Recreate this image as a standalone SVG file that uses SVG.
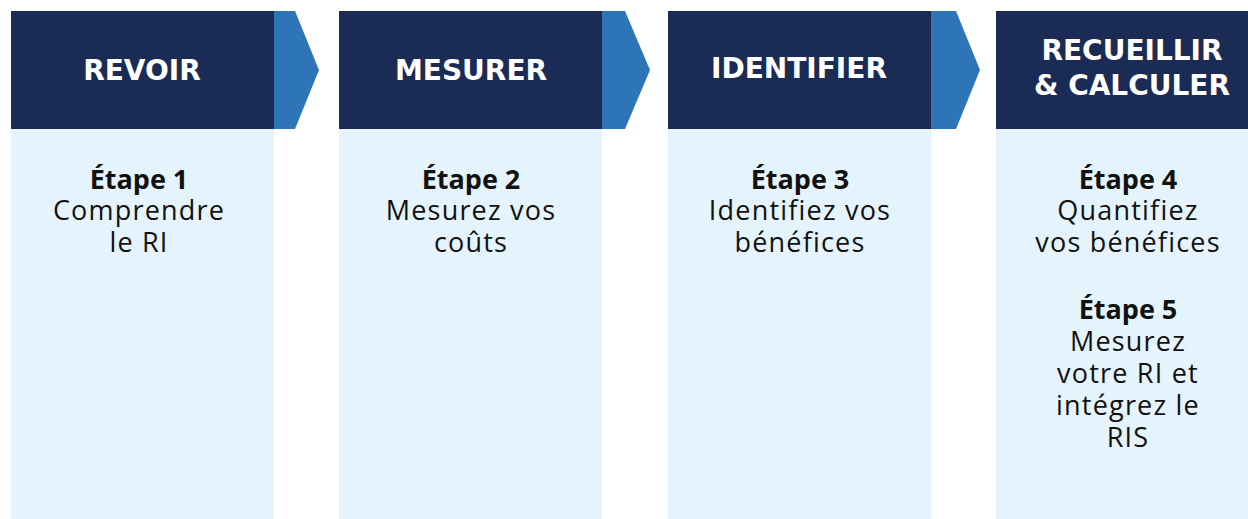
<svg xmlns="http://www.w3.org/2000/svg" width="1248" height="519" viewBox="0 0 1248 519">
<style>
.hd{fill:#1a2b55}
.bd{fill:#e5f4fc}
.arr{fill:#2e75b8}
.ht{font-family:"DejaVu Sans",sans-serif;font-weight:bold;font-size:28px;fill:#ffffff;text-anchor:middle}
.st{font-family:"Open Sans",sans-serif;font-weight:bold;font-size:27px;fill:#111111;text-anchor:middle}
.tx{font-family:"Open Sans",sans-serif;font-size:27px;fill:#111111;text-anchor:middle;letter-spacing:1.2px}
</style>
<rect x="0" y="0" width="1248" height="519" fill="#ffffff"/>
<g id="node-revoir">
<rect class="hd" x="11" y="11" width="263" height="118"/>
<rect class="bd" x="11" y="129" width="263" height="390"/>
<text class="ht" x="142" y="80">REVOIR</text>
<text class="st" x="139" y="189">Étape 1</text>
<text class="tx" x="139" y="220">Comprendre</text>
<text class="tx" x="139" y="252">le RI</text>
</g>
<g id="node-mesurer">
<rect class="hd" x="339" y="11" width="263" height="118"/>
<rect class="bd" x="339" y="129" width="263" height="390"/>
<text class="ht" x="471" y="80">MESURER</text>
<text class="st" x="471" y="189">Étape 2</text>
<text class="tx" x="471" y="220">Mesurez vos</text>
<text class="tx" x="471" y="252">coûts</text>
</g>
<g id="node-identifier">
<rect class="hd" x="668" y="11" width="263" height="118"/>
<rect class="bd" x="668" y="129" width="263" height="390"/>
<text class="ht" x="799" y="78">IDENTIFIER</text>
<text class="st" x="800" y="189">Étape 3</text>
<text class="tx" x="800" y="220">Identifiez vos</text>
<text class="tx" x="800" y="252">bénéfices</text>
</g>
<g id="node-recueillir">
<rect class="hd" x="996" y="11" width="252" height="118"/>
<rect class="bd" x="996" y="129" width="252" height="390"/>
<text class="ht" x="1132" y="60">RECUEILLIR</text>
<text class="ht" x="1132" y="95">&amp; CALCULER</text>
<text class="st" x="1128" y="189">Étape 4</text>
<text class="tx" x="1128" y="220">Quantifiez</text>
<text class="tx" x="1128" y="252">vos bénéfices</text>
<text class="st" x="1128" y="319">Étape 5</text>
<text class="tx" x="1128" y="351">Mesurez</text>
<text class="tx" x="1128" y="383">votre RI et</text>
<text class="tx" x="1128" y="415">intégrez le</text>
<text class="tx" x="1128" y="447">RIS</text>
</g>
<g id="connectors">
<polygon class="arr" points="274,11 295,11 319,70 295,129 274,129"/>
<polygon class="arr" points="602,11 625,11 650,70 625,129 602,129"/>
<polygon class="arr" points="931,11 956,11 980,70 956,129 931,129"/>
</g>
</svg>
